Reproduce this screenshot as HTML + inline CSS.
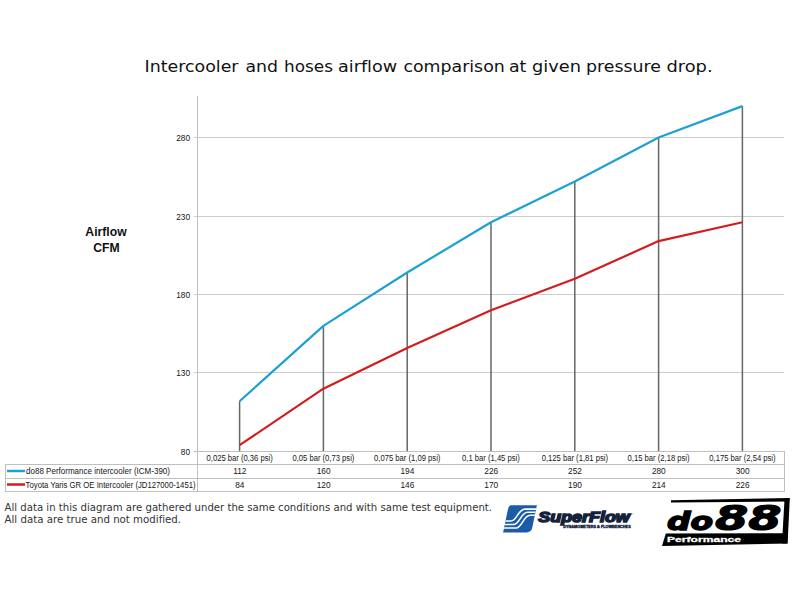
<!DOCTYPE html>
<html><head><meta charset="utf-8"><title>Intercooler airflow comparison</title>
<style>
html,body{margin:0;padding:0;background:#fff;}
body{width:800px;height:600px;overflow:hidden;}
svg{display:block;}
.v{font-family:"DejaVu Sans","Liberation Sans",sans-serif;fill:#1a1a1a;font-variant-ligatures:none;}
.c{font-family:"Liberation Sans",sans-serif;fill:#151515;}
</style></head><body>
<svg width="800" height="600" viewBox="0 0 800 600">
<rect width="800" height="600" fill="#fff"/>
<g class="v" style="fill:#111"><text x="144.5" y="72" font-size="16.5" textLength="94.0" lengthAdjust="spacingAndGlyphs">Intercooler</text><text x="245.4" y="72" font-size="16.5" textLength="32.5" lengthAdjust="spacingAndGlyphs">and</text><text x="284.0" y="72" font-size="16.5" textLength="49.0" lengthAdjust="spacingAndGlyphs">hoses</text><text x="338.0" y="72" font-size="16.5" textLength="59.2" lengthAdjust="spacingAndGlyphs">airflow</text><text x="403.4" y="72" font-size="16.5" textLength="101.4" lengthAdjust="spacingAndGlyphs">comparison</text><text x="509.0" y="72" font-size="16.5" textLength="17.4" lengthAdjust="spacingAndGlyphs">at</text><text x="532.0" y="72" font-size="16.5" textLength="49.0" lengthAdjust="spacingAndGlyphs">given</text><text x="586.0" y="72" font-size="16.5" textLength="75.0" lengthAdjust="spacingAndGlyphs">pressure</text><text x="666.4" y="72" font-size="16.5" textLength="46.2" lengthAdjust="spacingAndGlyphs">drop.</text></g>
<line x1="194" y1="137.5" x2="784" y2="137.5" stroke="#cccccc" stroke-width="1"/>
<line x1="194" y1="216.5" x2="784" y2="216.5" stroke="#cccccc" stroke-width="1"/>
<line x1="194" y1="294.5" x2="784" y2="294.5" stroke="#cccccc" stroke-width="1"/>
<line x1="194" y1="372.5" x2="784" y2="372.5" stroke="#cccccc" stroke-width="1"/>
<line x1="197.5" y1="96" x2="197.5" y2="491" stroke="#bfbfbf" stroke-width="1"/>
<text class="c" x="190" y="140.6" font-size="8.3" text-anchor="end">280</text>
<text class="c" x="190" y="219.6" font-size="8.3" text-anchor="end">230</text>
<text class="c" x="190" y="297.6" font-size="8.3" text-anchor="end">180</text>
<text class="c" x="190" y="375.6" font-size="8.3" text-anchor="end">130</text>
<text class="c" x="190" y="454.6" font-size="8.3" text-anchor="end">80</text>
<line x1="239.60" y1="401.3" x2="239.60" y2="451.5" stroke="#666666" stroke-width="1.5"/>
<line x1="323.40" y1="325.9" x2="323.40" y2="451.5" stroke="#666666" stroke-width="1.5"/>
<line x1="407.20" y1="272.5" x2="407.20" y2="451.5" stroke="#666666" stroke-width="1.5"/>
<line x1="491.00" y1="222.3" x2="491.00" y2="451.5" stroke="#666666" stroke-width="1.5"/>
<line x1="574.80" y1="181.5" x2="574.80" y2="451.5" stroke="#666666" stroke-width="1.5"/>
<line x1="658.60" y1="137.5" x2="658.60" y2="451.5" stroke="#666666" stroke-width="1.5"/>
<line x1="742.40" y1="106.1" x2="742.40" y2="451.5" stroke="#666666" stroke-width="1.5"/>
<polyline points="239.6,445.2 323.4,388.7 407.2,347.9 491.0,310.2 574.8,278.8 658.6,241.1 742.4,222.3" fill="none" stroke="#d41c1e" stroke-width="2.2" stroke-linejoin="round"/>
<polyline points="239.6,401.3 323.4,325.9 407.2,272.5 491.0,222.3 574.8,181.5 658.6,137.5 742.4,106.1" fill="none" stroke="#1ea0d4" stroke-width="2.2" stroke-linejoin="round"/>
<line x1="194" y1="451.5" x2="784.5" y2="451.5" stroke="#bfbfbf" stroke-width="1"/>
<line x1="5" y1="464.5" x2="784.5" y2="464.5" stroke="#bfbfbf" stroke-width="1"/>
<line x1="5" y1="478.5" x2="784.5" y2="478.5" stroke="#bfbfbf" stroke-width="1"/>
<line x1="5" y1="491.5" x2="784.5" y2="491.5" stroke="#bfbfbf" stroke-width="1"/>
<line x1="5.5" y1="464" x2="5.5" y2="492" stroke="#bfbfbf" stroke-width="1"/>
<line x1="784.5" y1="451" x2="784.5" y2="492" stroke="#bfbfbf" stroke-width="1"/>
<text class="c" x="206.5" y="460.5" font-size="8.3" textLength="66.3" lengthAdjust="spacingAndGlyphs">0,025 bar (0,36 psi)</text>
<text class="c" x="292.4" y="460.5" font-size="8.3" textLength="62.0" lengthAdjust="spacingAndGlyphs">0,05 bar (0,73 psi)</text>
<text class="c" x="374.1" y="460.5" font-size="8.3" textLength="66.3" lengthAdjust="spacingAndGlyphs">0,075 bar (1,09 psi)</text>
<text class="c" x="462.1" y="460.5" font-size="8.3" textLength="57.7" lengthAdjust="spacingAndGlyphs">0,1 bar (1,45 psi)</text>
<text class="c" x="541.7" y="460.5" font-size="8.3" textLength="66.3" lengthAdjust="spacingAndGlyphs">0,125 bar (1,81 psi)</text>
<text class="c" x="627.6" y="460.5" font-size="8.3" textLength="62.0" lengthAdjust="spacingAndGlyphs">0,15 bar (2,18 psi)</text>
<text class="c" x="709.3" y="460.5" font-size="8.3" textLength="66.3" lengthAdjust="spacingAndGlyphs">0,175 bar (2,54 psi)</text>
<text class="c" x="239.8" y="474" font-size="8.3" text-anchor="middle">112</text>
<text class="c" x="239.8" y="487.5" font-size="8.3" text-anchor="middle">84</text>
<text class="c" x="323.6" y="474" font-size="8.3" text-anchor="middle">160</text>
<text class="c" x="323.6" y="487.5" font-size="8.3" text-anchor="middle">120</text>
<text class="c" x="407.4" y="474" font-size="8.3" text-anchor="middle">194</text>
<text class="c" x="407.4" y="487.5" font-size="8.3" text-anchor="middle">146</text>
<text class="c" x="491.2" y="474" font-size="8.3" text-anchor="middle">226</text>
<text class="c" x="491.2" y="487.5" font-size="8.3" text-anchor="middle">170</text>
<text class="c" x="575.0" y="474" font-size="8.3" text-anchor="middle">252</text>
<text class="c" x="575.0" y="487.5" font-size="8.3" text-anchor="middle">190</text>
<text class="c" x="658.8" y="474" font-size="8.3" text-anchor="middle">280</text>
<text class="c" x="658.8" y="487.5" font-size="8.3" text-anchor="middle">214</text>
<text class="c" x="742.6" y="474" font-size="8.3" text-anchor="middle">300</text>
<text class="c" x="742.6" y="487.5" font-size="8.3" text-anchor="middle">226</text>
<line x1="7" y1="471" x2="25" y2="471" stroke="#1ea0d4" stroke-width="2.5"/>
<line x1="7" y1="484.5" x2="25" y2="484.5" stroke="#d41c1e" stroke-width="2.5"/>
<text class="c" x="26" y="474" font-size="8.3" textLength="144" lengthAdjust="spacingAndGlyphs">do88 Performance intercooler (ICM-390)</text>
<text class="c" x="25.6" y="487.5" font-size="8.3" textLength="170" lengthAdjust="spacingAndGlyphs">Toyota Yaris GR OE Intercooler (JD127000-1451)</text>
<text class="c" x="106" y="235.6" font-size="12.2" font-weight="bold" text-anchor="middle" style="fill:#111">Airflow</text>
<text class="c" x="106.5" y="252.2" font-size="12.2" font-weight="bold" text-anchor="middle" style="fill:#111">CFM</text>
<text class="v" x="4.5" y="511.1" font-size="10" textLength="487.5" lengthAdjust="spacingAndGlyphs" style="fill:#333">All data in this diagram are gathered under the same conditions and with same test equipment.</text>
<text class="v" x="4.5" y="523.1" font-size="10" textLength="176.6" lengthAdjust="spacingAndGlyphs" style="fill:#333">All data are true and not modified.</text>
<defs>
<clipPath id="sfc"><path d="M511.2,505.2 L536.9,505.2 L532.3,527.6 Q531.3,532.4 526.6,532.4 L503.1,532.4 L507.9,509.6 Q508.8,505.2 511.2,505.2 Z"/></clipPath>
</defs>
<path d="M511.2,505.2 L536.9,505.2 L532.3,527.6 Q531.3,532.4 526.6,532.4 L503.1,532.4 L507.9,509.6 Q508.8,505.2 511.2,505.2 Z" fill="#1a5ca8"/>
<g clip-path="url(#sfc)" fill="none" stroke="#fff" stroke-width="1.6">
<path d="M500,521 L511,521 C517,521 518,509.1 525,509.1 L540,509.1"/>
<path d="M500,524.5 L513.5,524.5 C519.5,524.5 521,512.3 527.5,512.3 L540,512.3"/>
<path d="M500,528 L516,528 C522,528 523.5,515.2 530,515.2 L540,515.2"/>
</g>
<text x="538.3" y="521.9" font-family="Liberation Sans, sans-serif" font-weight="bold" font-style="italic" font-size="14" textLength="91.5" lengthAdjust="spacingAndGlyphs" fill="#14223c" stroke="#14223c" stroke-width="1.4">SuperFlow</text>
<text x="563.3" y="527.6" font-family="Liberation Sans, sans-serif" font-weight="bold" font-size="3" textLength="67.4" lengthAdjust="spacingAndGlyphs" fill="#14223c" stroke="#14223c" stroke-width="0.3">DYNAMOMETERS &amp; FLOWBENCHES</text>
<text x="631.5" y="515" font-family="Liberation Sans, sans-serif" font-size="2.5" fill="#14223c">&#174;</text>
<path d="M671,500.2 L789.8,498.1 L789.1,501.5 L671,502.4 Z" fill="#000"/>
<path d="M784.4,501 L789.8,498.1 L787.6,543.6 L782,543.6 Z" fill="#000"/>
<path d="M665.8,533.6 L787.6,533.2 L787.4,543.6 L662,545.9 Z" fill="#000"/>
<text x="667" y="530" font-family="DejaVu Sans, sans-serif" font-weight="bold" font-style="italic" font-size="24" textLength="46" lengthAdjust="spacingAndGlyphs" fill="#000" stroke="#000" stroke-width="1.4">do</text>
<text x="715" y="530" font-family="DejaVu Sans, sans-serif" font-weight="bold" font-style="italic" font-size="34.3" textLength="66.5" lengthAdjust="spacingAndGlyphs" fill="#000" stroke="#000" stroke-width="1.2">88</text>
<text x="667" y="541.9" font-family="Liberation Sans, sans-serif" font-weight="bold" font-size="8" textLength="74" lengthAdjust="spacingAndGlyphs" fill="#fff" stroke="#fff" stroke-width="0.3">Performance</text>

</svg>
</body></html>
